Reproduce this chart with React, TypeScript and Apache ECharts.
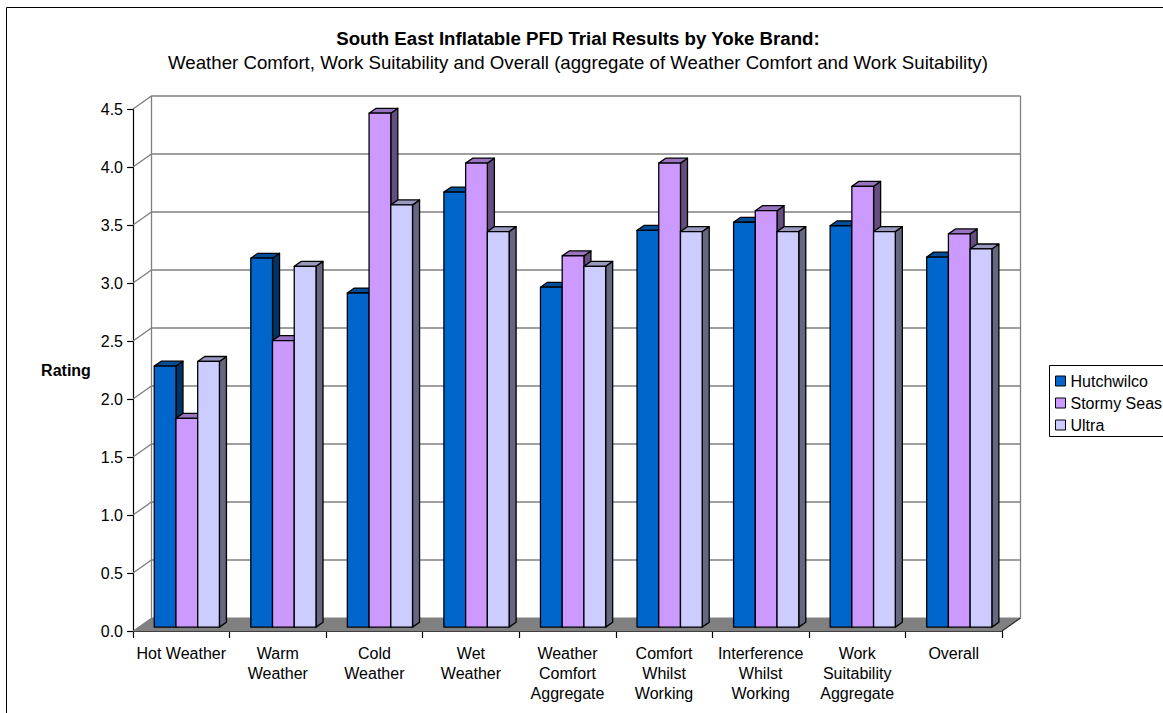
import React, { useEffect, useRef } from "react";
import * as echarts from "echarts";

const categories = [
  "Hot Weather",
  "Warm\nWeather",
  "Cold\nWeather",
  "Wet\nWeather",
  "Weather\nComfort\nAggregate",
  "Comfort\nWhilst\nWorking",
  "Interference\nWhilst\nWorking",
  "Work\nSuitability\nAggregate",
  "Overall",
];
const hutchwilco = [2.25, 3.18, 2.88, 3.75, 2.93, 3.42, 3.49, 3.46, 3.19];
const stormySeas = [1.8, 2.47, 4.43, 4.0, 3.2, 4.0, 3.59, 3.8, 3.39];
const ultra = [2.29, 3.11, 3.64, 3.41, 3.11, 3.41, 3.41, 3.41, 3.26];
const yTicks = [0, 0.5, 1.0, 1.5, 2.0, 2.5, 3.0, 3.5, 4.0, 4.5];

const FONT = "'Liberation Sans', Arial, sans-serif";
const DEPTH = [18.5, -13];
const BAR_FRONT = 0.3;
const BAR_DEPTH = 0.38;

const palettes = [
  { name: "Hutchwilco", front: "#0066CC", top: "#004D99", side: "#003366" },
  { name: "Stormy Seas", front: "#CC99FF", top: "#9973BF", side: "#664D80" },
  { name: "Ultra", front: "#CCCCFF", top: "#9999BF", side: "#666680" },
];

function barRenderer(idx: number) {
  const p = palettes[idx];
  return (params: any, api: any) => {
    const cat = api.value(0);
    const v = api.value(1);
    const top = api.coord([cat, v]);
    const base = api.coord([cat, 0]);
    const band = api.size([1, 0])[0];
    const bw = band * 0.225;
    const ox = DEPTH[0] * BAR_FRONT;
    const oy = DEPTH[1] * BAR_FRONT;
    const dx = DEPTH[0] * BAR_DEPTH;
    const dy = DEPTH[1] * BAR_DEPTH;
    const xL = top[0] + ox + (idx - 1.5) * bw;
    const xR = xL + bw;
    const yT = top[1] + oy;
    const yB = base[1] + oy;
    const stroke = { stroke: "#000", lineWidth: 1.3, lineJoin: "round" };
    return {
      type: "group",
      children: [
        {
          type: "polygon",
          shape: { points: [[xR, yT], [xR + dx, yT + dy], [xR + dx, yB + dy], [xR, yB]] },
          style: { fill: p.side, ...stroke },
        },
        {
          type: "polygon",
          shape: { points: [[xL, yT], [xR, yT], [xR + dx, yT + dy], [xL + dx, yT + dy]] },
          style: { fill: p.top, ...stroke },
        },
        {
          type: "rect",
          shape: { x: xL, y: yT, width: bw, height: yB - yT },
          style: { fill: p.front, ...stroke },
        },
      ],
    };
  };
}

function wallsRenderer(params: any, api: any) {
  const cs = params.coordSys;
  const x0 = cs.x;
  const x1 = cs.x + cs.width;
  const [DX, DY] = DEPTH;
  const y0 = api.coord([0, 0])[1];
  const yTop = api.coord([0, yTicks[yTicks.length - 1]])[1];
  const children: any[] = [];
  children.push({
    type: "polygon",
    shape: { points: [[x0, y0], [x1, y0], [x1 + DX, y0 + DY], [x0 + DX, y0 + DY]] },
    style: { fill: "#808080", stroke: "#808080", lineWidth: 1 },
  });
  children.push({
    type: "line",
    shape: { x1: x1, y1: y0, x2: x1 + DX, y2: y0 + DY },
    style: { stroke: "#333", lineWidth: 1.2 },
  });
  yTicks.forEach((t) => {
    if (t === 0) return;
    const y = api.coord([0, t])[1];
    children.push({
      type: "polyline",
      shape: { points: [[x0, y], [x0 + DX, y + DY], [x1 + DX, y + DY]] },
      style: { stroke: "#808080", lineWidth: 1.3, fill: null },
    });
  });
  children.push({
    type: "line",
    shape: { x1: x0 + DX, y1: y0 + DY, x2: x0 + DX, y2: yTop + DY },
    style: { stroke: "#808080", lineWidth: 1.3 },
  });
  children.push({
    type: "line",
    shape: { x1: x1 + DX, y1: y0 + DY, x2: x1 + DX, y2: yTop + DY },
    style: { stroke: "#808080", lineWidth: 1.3 },
  });
  return { type: "group", children };
}

export default function App() {
  const ref = useRef<HTMLDivElement>(null);
  useEffect(() => {
    if (!ref.current) return;
    const chart = echarts.init(ref.current, null, { renderer: "svg" });
    const seriesData = [hutchwilco, stormySeas, ultra];
    chart.setOption({
      animation: false,
      backgroundColor: "#fff",
      textStyle: { fontFamily: FONT },
      grid: {
        left: 133,
        top: 109,
        width: 869,
        height: 522,
        containLabel: false,
        outerBoundsMode: "none",
      },
      xAxis: {
        type: "category",
        data: categories,
        boundaryGap: true,
        axisLine: { show: true, lineStyle: { color: "#000", width: 1.2 } },
        axisTick: { show: true, length: 7, alignWithLabel: false, lineStyle: { color: "#000", width: 1.2 } },
        axisLabel: {
          interval: 0,
          margin: 12,
          fontSize: 16,
          lineHeight: 20,
          color: "#000",
          fontFamily: FONT,
        },
        splitLine: { show: false },
      },
      yAxis: {
        type: "value",
        min: 0,
        max: 4.5,
        interval: 0.5,
        axisLine: { show: true, lineStyle: { color: "#000", width: 1.2 } },
        axisTick: { show: true, length: 6, lineStyle: { color: "#000", width: 1.2 } },
        axisLabel: {
          margin: 10,
          fontSize: 16,
          color: "#000",
          fontFamily: FONT,
          formatter: (v: number) => v.toFixed(1),
        },
        splitLine: { show: false },
      },
      legend: {
        orient: "vertical",
        left: 1055,
        top: 370,
        itemWidth: 10,
        itemHeight: 10,
        itemGap: 0,
        padding: 0,
        icon: "rect",
        itemStyle: { borderColor: "#000", borderWidth: 1 },
        textStyle: { fontSize: 16, color: "#000", fontFamily: FONT, lineHeight: 22 },
        data: palettes.map((p) => p.name),
      },
      graphic: [
        {
          type: "rect",
          shape: { x: 6.5, y: 7.5, width: 1300, height: 900 },
          style: { fill: "none", stroke: "#000", lineWidth: 1 },
          z: -10,
        },
        {
          type: "rect",
          shape: { x: 1049.5, y: 365.5, width: 200, height: 71 },
          style: { fill: "none", stroke: "#000", lineWidth: 1 },
        },
        {
          type: "text",
          x: 578,
          y: 38,
          style: {
            text: "South East Inflatable PFD Trial Results by Yoke Brand:",
            font: `bold 18.67px ${FONT}`,
            fill: "#000",
            textAlign: "center",
            textVerticalAlign: "middle",
          },
        },
        {
          type: "text",
          x: 578,
          y: 62,
          style: {
            text: "Weather Comfort, Work Suitability and Overall (aggregate of Weather Comfort and Work Suitability)",
            font: `18.67px ${FONT}`,
            fill: "#000",
            textAlign: "center",
            textVerticalAlign: "middle",
          },
        },
        {
          type: "text",
          x: 66,
          y: 370,
          style: {
            text: "Rating",
            font: `bold 16px ${FONT}`,
            fill: "#000",
            textAlign: "center",
            textVerticalAlign: "middle",
          },
        },
      ],
      series: [
        {
          type: "custom",
          name: "walls",
          renderItem: wallsRenderer,
          data: [[0, 0]],
          z: 1,
          silent: true,
        },
        ...palettes.map((p, i) => ({
          type: "custom",
          name: p.name,
          itemStyle: { color: p.front },
          renderItem: barRenderer(i),
          data: seriesData[i].map((v, c) => [c, v]),
          encode: { x: 0, y: 1 },
          z: 2 + i,
        })),
      ],
    });
    return () => chart.dispose();
  }, []);
  return (
    <div
      ref={ref}
      style={{ position: "fixed", left: 0, top: 0, width: 1163, height: 713 }}
    />
  );
}
